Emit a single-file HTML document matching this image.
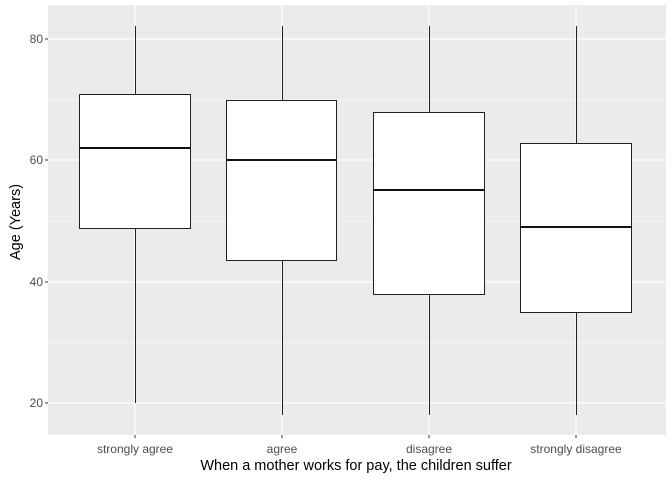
<!DOCTYPE html>
<html><head><meta charset="utf-8"><style>
html,body{margin:0;padding:0;background:#fff;}
svg{display:block;}
text{font-family:"Liberation Sans",Arial,sans-serif;}
</style></head><body>
<svg width="672" height="480" viewBox="0 0 672 480" xmlns="http://www.w3.org/2000/svg">
<rect x="0" y="0" width="672" height="480" fill="#fff"/>
<rect x="48" y="5" width="618" height="430" fill="#EBEBEB"/>
<g stroke="#fff" stroke-width="0.6">
<line x1="48" x2="666" y1="100" y2="100"/>
<line x1="48" x2="666" y1="221" y2="221"/>
<line x1="48" x2="666" y1="343" y2="343"/>
</g>
<g stroke="#fff" stroke-width="1.2">
<line x1="48" x2="666" y1="39" y2="39"/>
<line x1="48" x2="666" y1="160" y2="160"/>
<line x1="48" x2="666" y1="282" y2="282"/>
<line x1="48" x2="666" y1="403" y2="403"/>
<line x1="135" x2="135" y1="5" y2="435"/>
<line x1="282" x2="282" y1="5" y2="435"/>
<line x1="429" x2="429" y1="5" y2="435"/>
<line x1="576" x2="576" y1="5" y2="435"/>
</g>
<g stroke="#222" stroke-width="1" fill="#fff">
<line x1="135.5" x2="135.5" y1="26" y2="403"/>
<rect x="79.5" y="94.5" width="111" height="134"/>
<line x1="282.5" x2="282.5" y1="26" y2="415"/>
<rect x="226.5" y="100.5" width="110" height="160"/>
<line x1="429.5" x2="429.5" y1="26" y2="415"/>
<rect x="373.5" y="112.5" width="111" height="182"/>
<line x1="576.5" x2="576.5" y1="26" y2="415"/>
<rect x="520.5" y="143.5" width="111" height="169"/>
</g>
<g stroke="#111" stroke-width="2">
<line x1="79" x2="191" y1="148" y2="148"/>
<line x1="226" x2="337" y1="160" y2="160"/>
<line x1="373" x2="485" y1="190" y2="190"/>
<line x1="520" x2="632" y1="227" y2="227"/>
</g>
<g stroke="#333" stroke-width="1">
<line x1="45" x2="48" y1="39" y2="39"/>
<line x1="45" x2="48" y1="160" y2="160"/>
<line x1="45" x2="48" y1="282" y2="282"/>
<line x1="45" x2="48" y1="403" y2="403"/>
<line x1="135" x2="135" y1="435" y2="438"/>
<line x1="282" x2="282" y1="435" y2="438"/>
<line x1="429" x2="429" y1="435" y2="438"/>
<line x1="576" x2="576" y1="435" y2="438"/>
</g>
<g fill="#4D4D4D" font-size="12" text-anchor="end">
<text x="43" y="43">80</text>
<text x="43" y="164">60</text>
<text x="43" y="286">40</text>
<text x="43" y="407">20</text>
</g>
<g fill="#4D4D4D" font-size="12" text-anchor="middle">
<text x="135" y="453">strongly agree</text>
<text x="282" y="453">agree</text>
<text x="429" y="453">disagree</text>
<text x="576" y="453">strongly disagree</text>
</g>
<text x="356" y="470" font-size="14.5" text-anchor="middle" fill="#000">When a mother works for pay, the children suffer</text>
<text transform="translate(20,222) rotate(-90)" font-size="14.5" text-anchor="middle" fill="#000">Age (Years)</text>
</svg>
</body></html>
